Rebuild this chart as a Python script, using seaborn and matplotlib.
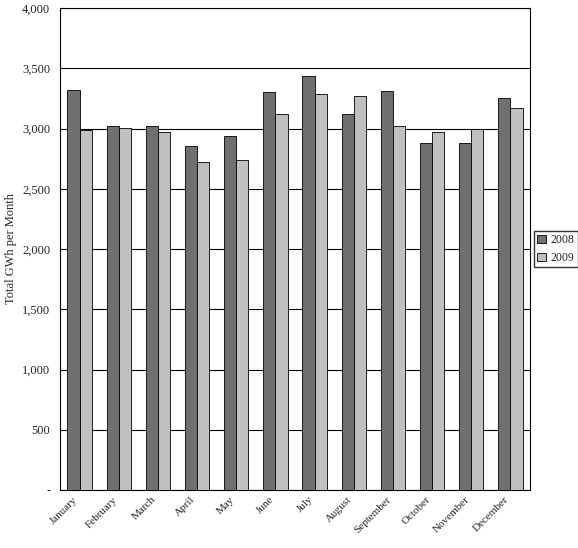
import matplotlib
matplotlib.use("Agg")
import matplotlib.pyplot as plt
import seaborn as sns
import pandas as pd

months = ["January","February","March","April","May","June","July","August",
          "September","October","November","December"]
v2008 = [3320,3020,3020,2855,2938,3303,3436,3120,3311,2880,2880,3253]
v2009 = [2988,3004,2971,2722,2739,3120,3286,3270,3020,2971,2996,3170]
years = ["2008","2009"]

df = pd.DataFrame({"Month": months*2, "GWh": v2008+v2009,
                   "Year": [years[0]]*12 + [years[1]]*12})

sns.set_style("white")
plt.rcParams['font.family'] = ['Liberation Serif', 'DejaVu Serif']
fig = plt.figure(figsize=(5.78,5.48), dpi=100)
ax = fig.add_axes([60/578, 1-490/548, 470/578, 482/548])
sns.barplot(data=df, x="Month", y="GWh", hue="Year", palette=["#707070","#c0c0c0"],
            edgecolor="black", linewidth=0.6, width=0.62, ax=ax, zorder=3)
ax.set_ylim(0,4000)
ax.set_yticks(range(0,4001,500))
ax.set_yticklabels(["-"]+[f"{v:,}" for v in range(500,4001,500)], fontsize=9)
ax.yaxis.grid(True, color="black", linewidth=0.8, zorder=0)
ax.set_axisbelow(True)
ax.set_xlabel("")
ax.set_ylabel("Total GWh per Month", fontsize=9)
ax.set_xticks(range(12))
ax.set_xticklabels(months, rotation=45, ha="right", fontsize=8)
ax.tick_params(axis='x', length=0)
for s in ax.spines.values():
    s.set_color("black"); s.set_linewidth(0.8)
ax.legend(loc="center left", bbox_to_anchor=(1.008, 0.5), fontsize=8.5, frameon=True,
          edgecolor="black", fancybox=False, handlelength=0.7, handletextpad=0.4,
          borderpad=0.3, borderaxespad=0)
fig.savefig("out.png", dpi=100)
